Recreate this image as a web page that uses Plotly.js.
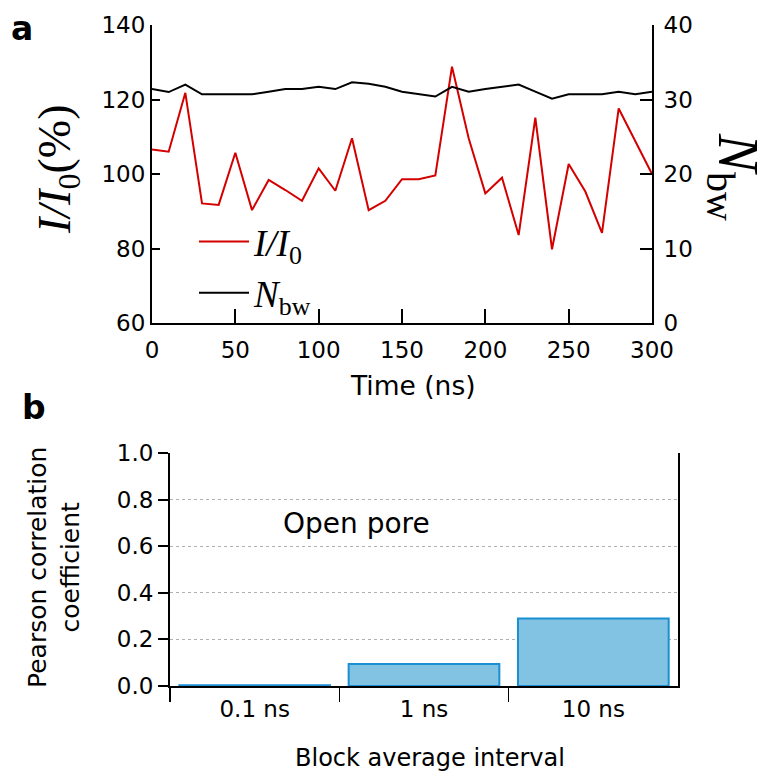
<!DOCTYPE html>
<html>
<head>
<meta charset="utf-8">
<script src="https://cdn.plot.ly/plotly-3.0.1.min.js"></script>
<style>html,body{margin:0;padding:0;background:#fff;}#chart{width:758px;height:775px;}</style>
</head>
<body>
<div id="chart"></div>
<script>
// ---- data ----
const timeNs = [0,10,20,30,40,50,60,70,80,90,100,110,120,130,140,150,160,170,180,190,200,210,220,230,240,250,260,270,280,290,300];
const currentPct = [106.6,106.0,121.8,92.1,91.7,105.7,90.3,98.4,95.7,92.8,101.5,95.5,109.6,90.3,92.8,98.6,98.6,99.6,128.8,109.6,94.8,99.0,83.6,115.1,79.8,102.7,95.3,84.2,117.6,108.7,100.0];
const nbw = [31.4,31.0,32.0,30.7,30.7,30.7,30.7,31.05,31.4,31.4,31.7,31.4,32.3,32.1,31.7,31.05,30.7,30.4,31.7,31.05,31.4,31.7,32.0,31.05,30.1,30.7,30.7,30.7,31.05,30.7,31.05];
const intervals = ["0.1 ns","1 ns","10 ns"];
const pearson = [0.003, 0.094, 0.29];
const timeTicks = [0,50,100,150,200,250,300];

// ---- layout helpers ----
const W = 758, H = 775;
const px = x => x / W;
const py = y => 1 - y / H;
const SANS = "DejaVu Sans";
const SERIF = "Liberation Serif";

const traces = [
  {x: timeNs, y: currentPct, type: 'scatter', mode: 'lines', name: '<i>I/I</i><sub>0</sub>',
   line: {color: '#d40000', width: 2}, xaxis: 'x', yaxis: 'y', hoverinfo: 'skip'},
  {x: timeNs, y: nbw, type: 'scatter', mode: 'lines', name: '<i>N</i><sub>bw</sub>',
   line: {color: '#000000', width: 2}, xaxis: 'x', yaxis: 'y2', hoverinfo: 'skip'},
  {x: intervals, y: pearson, type: 'bar', showlegend: false, xaxis: 'x3', yaxis: 'y3',
   marker: {color: '#82c3e4', line: {color: '#1a8fd2', width: 2}}, hoverinfo: 'skip'}
];

const tickFont = {family: SANS, size: 23, color: '#000'};

function ann(text, x, y, font, extra) {
  return Object.assign({text: text, x: px(x), y: py(y), xref: 'paper', yref: 'paper', showarrow: false,
    xanchor: 'center', yanchor: 'middle', font: font}, extra || {});
}

const layout = {
  width: W, height: H,
  margin: {l: 0, r: 0, t: 0, b: 0},
  paper_bgcolor: '#fff', plot_bgcolor: 'rgba(0,0,0,0)',
  showlegend: true,
  bargap: 0.11,
  legend: {x: px(194), y: py(211), xanchor: 'left', yanchor: 'top', itemwidth: 50,
           font: {family: SERIF, size: 37, color: '#000'}, bgcolor: 'rgba(0,0,0,0)'},
  xaxis: {domain: [px(152), px(652)], anchor: 'y', range: [0, 300], tickvals: timeTicks,
          ticks: 'inside', ticklen: 14, tickwidth: 2, tickcolor: '#000', ticklabelstandoff: 5,
          showline: true, linecolor: '#000', linewidth: 2, showgrid: false, zeroline: false,
          tickfont: tickFont},
  yaxis: {domain: [py(323), py(25)], anchor: 'x', range: [60, 140], dtick: 20,
          ticks: 'inside', ticklen: 8, tickwidth: 2, tickcolor: '#000',
          showline: true, linecolor: '#000', linewidth: 2, showgrid: false, zeroline: false,
          tickfont: tickFont},
  yaxis2: {overlaying: 'y', side: 'right', anchor: 'x', range: [0, 40], dtick: 10,
           ticks: 'inside', ticklen: 12, tickwidth: 2, tickcolor: '#000', ticklabelstandoff: 5,
           showline: true, linecolor: '#000', linewidth: 2, showgrid: false, zeroline: false,
           tickfont: tickFont},
  xaxis3: {domain: [px(170), px(678)], anchor: 'y3', type: 'category',
           tickson: 'boundaries', ticks: 'outside', ticklen: 14, tickwidth: 1.5, tickcolor: '#000',
           ticklabelstandoff: 1,
           showline: true, linecolor: '#000', linewidth: 2, showgrid: false, zeroline: false,
           tickfont: tickFont},
  yaxis3: {domain: [py(686), py(453)], anchor: 'x3', range: [0, 1], dtick: 0.2, tickformat: '.1f',
           ticks: 'outside', ticklen: 10, tickwidth: 2, tickcolor: '#000', ticklabelstandoff: 0,
           showline: true, mirror: true, linecolor: '#000', linewidth: 2,
           showgrid: true, gridcolor: '#b0b0b0', griddash: 'dot', gridwidth: 1, zeroline: false,
           tickfont: tickFont},
  annotations: [
    ann('<b>a</b>', 22, 28, {family: SANS, size: 33, color: '#000'}),
    ann('<b>b</b>', 34, 407, {family: SANS, size: 33, color: '#000'}),
    ann('Time (ns)', 413, 385, {family: SANS, size: 26.5, color: '#000'}),
    ann('<i>I/I</i><sub>0</sub>(%)', 58, 170, {family: SERIF, size: 46, color: '#000'}, {textangle: -90}),
    ann('<i>N</i><sub>bw</sub>', 734, 177, {family: SERIF, size: 57, color: '#000'}, {textangle: 90}),
    ann('Pearson correlation<br>coefficient', 54, 568, {family: SANS, size: 25, color: '#000'}, {textangle: -90}),
    ann('Block average interval', 430, 758, {family: SANS, size: 24, color: '#000'}),
    ann('Open pore', 356, 523, {family: SANS, size: 28, color: '#000'})
  ]
};

Plotly.newPlot('chart', traces, layout, {displayModeBar: false, staticPlot: true});
</script>
</body>
</html>
